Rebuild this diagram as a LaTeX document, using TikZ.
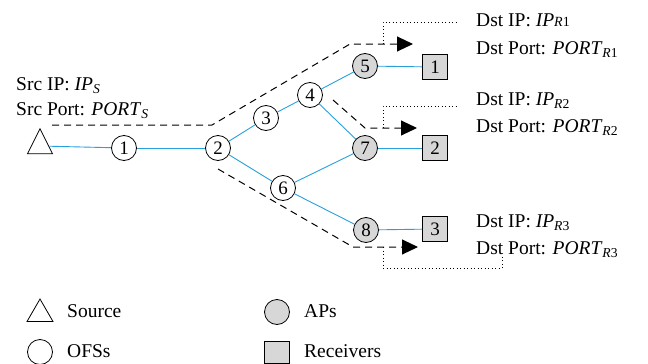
\documentclass[tikz,border=0pt]{standalone}
\usepackage{fontspec}
\setmainfont{Liberation Serif}
\usetikzlibrary{arrows.meta,shapes.geometric}
\definecolor{linkblue}{RGB}{40,160,220}
\definecolor{apgray}{RGB}{215,215,215}
\begin{document}
\begin{tikzpicture}[x=1pt,y=-1pt,
  font=\fontsize{19.5}{23}\selectfont,
  ofs/.style={circle,draw,line width=0.8pt,minimum size=25pt,inner sep=0pt,fill=white,font=\fontsize{19}{22}\selectfont},
  ap/.style={ofs,fill=apgray},
  rcv/.style={rectangle,draw,line width=0.8pt,fill=apgray,minimum size=25pt,inner sep=0pt,font=\fontsize{19}{22}\selectfont},
  src/.style={isosceles triangle,shape border rotate=90,isosceles triangle stretches,draw,line width=0.8pt,inner sep=0pt,fill=white},
  link/.style={linkblue,line width=0.9pt},
  flow/.style={dash pattern=on 7pt off 5pt,line width=1pt,-{Triangle[length=16pt,width=15pt]}},
  guide/.style={dash pattern=on 1pt off 2.5pt,line width=0.8pt},
  lbl/.style={anchor=base west,inner sep=0pt}]
\useasboundingbox (0,0) rectangle (648,364);

% nodes
\node[src,minimum width=25pt,minimum height=25pt] (S) at (40,146) {};
\node[ofs] (n1) at (124,148) {1};
\node[ofs] (n2) at (218,148) {2};
\node[ofs] (n3) at (266,118) {3};
\node[ofs] (n4) at (310,95) {4};
\node[ap] (n5) at (365,66) {5};
\node[ofs] (n6) at (283,188) {6};
\node[ap] (n7) at (365,148) {7};
\node[ap] (n8) at (366,230) {8};
\node[rcv] (r1) at (435,67) {1};
\node[rcv] (r2) at (435,148) {2};
\node[rcv] (r3) at (435,229) {3};

% links
\draw[link] (S) -- (n1);
\draw[link] (n1) -- (n2);
\draw[link] (n2) -- (n3);
\draw[link] (n3) -- (n4);
\draw[link] (n4) -- (n5);
\draw[link] (n4) -- (n7);
\draw[link] (n2) -- (n6);
\draw[link] (n6) -- (n7);
\draw[link] (n6) -- (n8);
\draw[link] (n5) -- (r1);
\draw[link] (n7) -- (r2);
\draw[link] (n8) -- (r3);

% flow coordinates
\coordinate (fa0) at (52,125);
\coordinate (fa1) at (212,125);
\coordinate (fa2) at (350,44);
\coordinate (fa3) at (413,44);
\coordinate (fb0) at (333,100);
\coordinate (fb1) at (365,128);
\coordinate (fb2) at (417,128);
\coordinate (fc0) at (218,169);
\coordinate (fc1) at (353,247);
\coordinate (fc2) at (418,247);

\draw[flow] (fa0) -- (fa1) -- (fa2) -- (fa3);
\draw[flow] (fb0) -- (fb1) -- (fb2);
\draw[flow] (fc0) -- (fc1) -- (fc2);

% dotted guides
\coordinate (ga0) at (383,44);
\coordinate (ga1) at (383,22);
\coordinate (ga2) at (456,22);
\coordinate (gb0) at (383,128);
\coordinate (gb1) at (383,106);
\coordinate (gb2) at (456,106);
\coordinate (gc0) at (383,247);
\coordinate (gc1) at (383,268);
\coordinate (gc2) at (502,268);
\coordinate (gc3) at (502,255);
\draw[guide] (ga0) -- (ga1) -- (ga2);
\draw[guide] (gb0) -- (gb1) -- (gb2);
\draw[guide] (gc0) -- (gc1) -- (gc2) -- (gc3);

% labels
\node[lbl] (ts1) at (16,90) {Src IP: \textit{IP}\textsubscript{\textit{S}}};
\node[lbl] (ts2) at (16,115) {Src Port: \textit{PORT}\textsubscript{\textit{S}}};
\node[lbl] (td1) at (476,26) {Dst IP: \textit{IP}{\fontsize{14}{16}\selectfont\textit{R}1}};
\node[lbl] (td2) at (476,54) {Dst Port: \textit{PORT}\textsubscript{\textit{R}1}};
\node[lbl] (td3) at (476,105) {Dst IP: \textit{IP}\textsubscript{\textit{R}2}};
\node[lbl] (td4) at (476,132) {Dst Port: \textit{PORT}\textsubscript{\textit{R}2}};
\node[lbl] (td5) at (476,227) {Dst IP: \textit{IP}\textsubscript{\textit{R}3}};
\node[lbl] (td6) at (476,254) {Dst Port: \textit{PORT}\textsubscript{\textit{R}3}};

% legend
\node[regular polygon,regular polygon sides=3,draw,line width=0.8pt,minimum size=30pt,inner sep=0pt] (lgS) at (40,314) {};
\node[lbl] (lgSt) at (67,317) {Source};
\node[ofs] (lgO) at (40,352) {};
\node[lbl] (lgOt) at (67,357) {OFSs};
\node[ap] (lgA) at (277,312) {};
\node[lbl] (lgAt) at (304,317) {APs};
\node[rcv,minimum width=25pt,minimum height=22pt] (lgR) at (277,352) {};
\node[lbl] (lgRt) at (304,357) {Receivers};
\end{tikzpicture}
\end{document}
